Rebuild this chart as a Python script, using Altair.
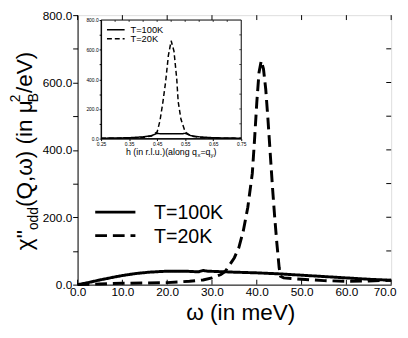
import altair as alt
import pandas as pd

# ---------------- data ----------------
series_names = ["T=100K", "T=20K"]

omega_100 = [0, 2, 5, 8, 10, 13, 16, 20, 24, 27, 28, 29, 31, 35, 40, 45, 50, 55, 60, 65, 70]
chi_100 = [0, 5, 14, 22, 27, 33, 37, 40, 40, 38, 42, 40, 39, 37, 35, 32, 28, 24, 20, 16, 13]

omega_20 = [0, 5, 10, 15, 20, 25, 28, 30, 32, 33, 34, 35, 36, 37, 38, 39, 39.5, 40, 40.5,
            41, 41.5, 42, 42.5, 43, 43.5, 44, 44.5, 45, 45.3, 46, 48, 50, 55, 60, 65, 70]
chi_20 = [0, 2, 4, 5, 6, 10, 14, 20, 30, 40, 60, 80, 110, 160, 230, 330, 430, 540, 630,
          665, 640, 580, 490, 390, 290, 200, 120, 50, 25, 20, 18, 16, 12, 10, 11, 13]

h_100 = [0.25, 0.30, 0.35, 0.40, 0.43, 0.45, 0.46, 0.50, 0.54, 0.55, 0.57, 0.60, 0.65, 0.70, 0.75]
inset_100 = [3, 4, 6, 12, 20, 36, 33, 33, 33, 36, 20, 12, 6, 4, 3]

h_20 = [0.25, 0.30, 0.35, 0.40, 0.43, 0.45, 0.46, 0.47, 0.48, 0.49, 0.50, 0.51, 0.52,
        0.525, 0.535, 0.55, 0.57, 0.60, 0.65, 0.70, 0.75]
inset_20 = [2, 3, 4, 8, 18, 45, 120, 240, 380, 560, 660, 590, 400, 250, 130, 45, 18, 8, 4, 3, 2]

x_ticks = [0, 10, 20, 30, 40, 50, 60, 70]
y_ticks = [0, 100, 200, 300, 400, 500, 600, 700, 800]
inset_x_ticks = [0.25, 0.35, 0.45, 0.55, 0.65, 0.75]
inset_x_minor = [0.30, 0.35, 0.40, 0.45, 0.50, 0.55, 0.60, 0.65, 0.70]
inset_y_ticks = [0, 100, 200, 300, 400, 500, 600, 700, 800]

FONT = "Liberation Sans"
W, H = 320, 275

main_df = pd.concat([
    pd.DataFrame({"omega": omega_100, "chi": chi_100, "series": series_names[0]}),
    pd.DataFrame({"omega": omega_20, "chi": chi_20, "series": series_names[1]}),
])
inset_df = pd.concat([
    pd.DataFrame({"h": h_100, "chi": inset_100, "series": series_names[0]}),
    pd.DataFrame({"h": h_20, "chi": inset_20, "series": series_names[1]}),
])

# ---------------- main panel ----------------
last_x = x_ticks[-1]
x_main = alt.X("omega:Q",
               scale=alt.Scale(domain=[0, 70], nice=False, zero=False),
               axis=alt.Axis(values=x_ticks, format=".1f", orient="bottom",
                             labelFont=FONT, labelFontSize=12, labelColor="black",
                             labelFlush=False, labelOverlap=False, labelPadding=2,
                             labelAlign={"condition": {"test": f"datum.value === {last_x}", "value": "right"},
                                         "value": "center"},
                             labelOffset={"condition": {"test": f"datum.value === {last_x}", "value": 5},
                                          "value": 0},
                             tickSize=0, grid=False, domainColor="black",
                             title="ω (in meV)", titleFont=FONT, titleFontSize=23,
                             titleFontWeight="normal", titleColor="black",
                             titleX=166, titleY=36, titleAlign="center", titleBaseline="alphabetic"))
y_main = alt.Y("chi:Q",
               scale=alt.Scale(domain=[0, 800], nice=False, zero=False),
               axis=alt.Axis(values=y_ticks, orient="left",
                             labelExpr="datum.value % 200 === 0 ? format(datum.value, '.1f') : ''",
                             labelFont=FONT, labelFontSize=12, labelColor="black",
                             labelFlush=False, labelOverlap=False, labelPadding=1,
                             tickSize=5, tickColor="black", grid=False, domainColor="black",
                             title=None))
dash_main = alt.StrokeDash("series:N",
                           scale=alt.Scale(domain=series_names, range=[[1, 0], [12, 6]]),
                           legend=None)

main_lines = alt.Chart(main_df).mark_line(color="black", strokeWidth=3).encode(
    x=x_main, y=y_main, strokeDash=dash_main)

xt_df = pd.DataFrame({"omega": x_ticks})
top_ticks = alt.Chart(xt_df).mark_rule(color="black").encode(
    x=x_main, y=alt.value(0), y2=alt.value(5))
bottom_ticks = alt.Chart(xt_df).mark_rule(color="black").encode(
    x=x_main, y=alt.value(H - 5), y2=alt.value(H))
yt_df = pd.DataFrame({"chi": y_ticks[1:-1]})
right_ticks = alt.Chart(yt_df).mark_rule(color="black").encode(
    y=y_main, x=alt.value(W - 5), x2=alt.value(W))

# legend of the main panel
leg_layers = []
for i, name in enumerate(series_names):
    d = pd.DataFrame({"series": [name]})
    yy = 201 + 24 * i
    leg_layers.append(alt.Chart(d).mark_rule(color="black", strokeWidth=3).encode(
        x=alt.value(18), x2=alt.value(59), y=alt.value(yy), strokeDash=dash_main))
    leg_layers.append(alt.Chart(d).mark_text(font=FONT, fontSize=20, align="left",
                                             baseline="middle", color="black").encode(
        x=alt.value(78), y=alt.value(yy + 1), text="series:N"))

# rotated y title built from pieces (sub/superscripts)
WID = {"χ": 0.52, "'": 0.191, "o": 0.556, "d": 0.556, "(": 0.333, ")": 0.333, "Q": 0.778,
       ",": 0.278, "ω": 0.69, " ": 0.278, "i": 0.222, "n": 0.556, "μ": 0.576, "B": 0.667,
       "2": 0.556, "/": 0.278, "e": 0.556, "V": 0.667, "h": 0.556, "r": 0.333, ".": 0.278,
       "l": 0.222, "u": 0.556, "a": 0.556, "g": 0.556, "q": 0.556, "x": 0.5, "y": 0.5,
       "=": 0.584}


def tw(s, size):
    return sum(WID.get(c, 0.55) for c in s) * size


MAIN_FS, SUB_FS = 23, 14
base_x = -47
pieces = [("χ''", MAIN_FS, 0, True), ("odd", SUB_FS, 7, True), ("(Q,ω) (in μ", MAIN_FS, 0, True),
          ("B", SUB_FS, 7, False), ("2", SUB_FS, -12, True), ("/eV)", MAIN_FS, 0, True)]
ytitle_layers = []
pos = 240
one = pd.DataFrame({"k": [0]})
prev_w = 0
for text, fs, shift, adv in pieces:
    ytitle_layers.append(alt.Chart(one).mark_text(
        text=text, font=FONT, fontSize=fs, angle=270, align="left", baseline="alphabetic",
        color="black").encode(x=alt.value(base_x + shift), y=alt.value(pos)))
    w = tw(text, fs)
    if adv:
        pos -= max(w, prev_w)
        prev_w = 0
    else:
        prev_w = w

main = alt.layer(main_lines, top_ticks, bottom_ticks, right_ticks, *leg_layers, *ytitle_layers)

# ---------------- inset panel ----------------
IX0, IX1, IY0, IY1 = 24, 167, 126, 5
x_in = alt.X("h:Q",
             scale=alt.Scale(domain=[0.25, 0.75], range=[IX0, IX1], nice=False, zero=False),
             axis=alt.Axis(values=inset_x_ticks, format=".2f", orient="bottom", offset=IY0 - H,
                           labelFont=FONT, labelFontSize=5, labelColor="black",
                           labelFlush=False, labelOverlap=False, labelPadding=1,
                           tickSize=2, tickColor="black", grid=False, domainColor="black",
                           title=None))
y_in = alt.Y("chi:Q",
             scale=alt.Scale(domain=[0, 800], range=[IY0, IY1], nice=False, zero=False),
             axis=alt.Axis(values=inset_y_ticks, orient="left", offset=-IX0,
                           labelExpr="datum.value % 200 === 0 ? format(datum.value, '.1f') : ''",
                           labelFont=FONT, labelFontSize=5, labelColor="black",
                           labelFlush=False, labelOverlap=False, labelPadding=1,
                           tickSize=2, tickColor="black", grid=False, domainColor="black",
                           title=None))
dash_in = alt.StrokeDash("series:N",
                         scale=alt.Scale(domain=series_names, range=[[1, 0], [5, 3]]),
                         legend=None)

inset_lines = alt.Chart(inset_df).mark_line(color="black", strokeWidth=1.5).encode(
    x=x_in, y=y_in, strokeDash=dash_in)

frame_df = pd.DataFrame({"h": [inset_x_ticks[0]], "h2": [inset_x_ticks[-1]],
                         "chi": [inset_y_ticks[0]], "chi2": [inset_y_ticks[-1]]})
inset_frame = alt.Chart(frame_df).mark_rect(fillOpacity=0, stroke="black", strokeWidth=1).encode(
    x=x_in, x2="h2:Q", y=y_in, y2="chi2:Q")

itop = alt.Chart(pd.DataFrame({"h": inset_x_minor})).mark_rule(color="black", strokeWidth=0.7).encode(
    x=x_in, y=alt.value(IY1), y2=alt.value(IY1 + 2))
iright = alt.Chart(pd.DataFrame({"chi": inset_y_ticks[1:-1]})).mark_rule(color="black", strokeWidth=0.7).encode(
    y=y_in, x=alt.value(IX1 - 2), x2=alt.value(IX1))

ileg = []
for i, name in enumerate(series_names):
    d = pd.DataFrame({"series": [name]})
    yy = IY1 + 10 + 9 * i
    ileg.append(alt.Chart(d).mark_rule(color="black", strokeWidth=1.5).encode(
        x=alt.value(30), x2=alt.value(48), y=alt.value(yy), strokeDash=dash_in))
    ileg.append(alt.Chart(d).mark_text(font=FONT, fontSize=9.5, align="left",
                                       baseline="middle", color="black").encode(
        x=alt.value(54), y=alt.value(yy + 0.5), text="series:N"))

# inset x title with subscripts
IT_FS, IT_SUB = 9, 6
ipieces = [("h (in r.l.u.)(along q", IT_FS, 0), ("x", IT_SUB, 2), ("=q", IT_FS, 0),
           ("y", IT_SUB, 2), (")", IT_FS, 0)]
total = sum(tw(t, f) for t, f, s in ipieces)
ipos = (IX0 + IX1) / 2 - total / 2
ititle = []
for text, fs, shift in ipieces:
    ititle.append(alt.Chart(one).mark_text(
        text=text, font=FONT, fontSize=fs, align="left", baseline="alphabetic",
        color="black").encode(x=alt.value(ipos), y=alt.value(IY0 + 17 + shift)))
    ipos += tw(text, fs)

inset = alt.layer(inset_lines, inset_frame, itop, iright, *ileg, *ititle)

chart = alt.layer(main, inset).resolve_scale(
    x="independent", y="independent", strokeDash="independent"
).resolve_axis(x="independent", y="independent").properties(
    width=W, height=H,
    autosize=alt.AutoSizeParams(type="none"),
    padding={"left": 71, "top": 4, "right": 9, "bottom": 43},
).configure_view(stroke="black", strokeWidth=1).configure(background="white")

chart.save("out.html", embed_options={"renderer": "svg", "actions": False})
